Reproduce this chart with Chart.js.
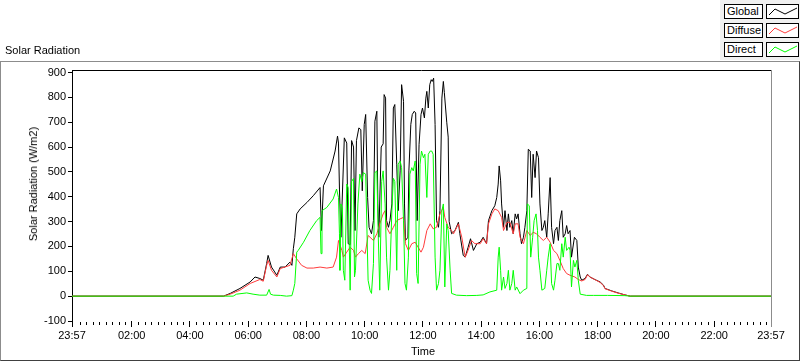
<!DOCTYPE html>
<html lang="en">
<head>
<meta charset="UTF-8">
<title>Solar Radiation</title>
<script src="https://cdn.jsdelivr.net/npm/chart.js"></script>
<style>
  body { margin: 0; background: #fff; font-family: "Liberation Sans", Arial, sans-serif; font-size: 11px; color: #000; }
  #wrap { position: relative; width: 800px; height: 361px; overflow: hidden; }
  #chart { position: absolute; left: 0; top: 0; }
  .frame { position: absolute; left: 0; top: 61px; width: 800px; height: 300px; box-sizing: border-box;
           border-top: 1px solid #8c8c8c; border-left: 1px solid #8c8c8c; border-right: 1px solid #404040; border-bottom: 1px solid #404040; }
  .panel { position: absolute; left: 720px; top: 0; width: 80px; height: 60px; background: #f0f0f0; }
  .lbl { position: absolute; left: 724px; width: 39px; height: 15px; box-sizing: border-box; border: 1px solid #000;
         background: #fff; line-height: 13px; padding-left: 2px; }
  .smp { position: absolute; left: 766px; width: 33px; height: 15px; box-sizing: border-box; border: 1px solid #000; background: #fff; }
  .smp svg { position: absolute; left: 0; top: 0; }
  .txt { position: absolute; white-space: nowrap; }
</style>
</head>
<body>
<div id="wrap">
  <div class="frame"></div>
  <canvas id="chart" width="800" height="361"></canvas>
  <div class="panel"></div>
  <div class="txt" style="left:5px; top:44px;">Solar Radiation</div>
  <div class="txt" style="left:411px; top:345px;">Time</div>
  <div class="txt" style="left:33px; top:184px; transform: translate(-50%, -50%) rotate(-90deg);">Solar Radiation (W/m2)</div>
  <div id="legend"></div>
</div>

<script>
// times are minutes after midnight; the axis runs 23:57 -> 23:57
const xTicks = [-3, 120, 240, 360, 480, 600, 720, 840, 960, 1080, 1200, 1320, 1437];
const yTicks = [-100, 0, 100, 200, 300, 400, 500, 600, 700, 800, 900];

const globalTime = [
  -3, 309, 323, 343, 364, 374, 384, 391, 398, 401,
  408, 419, 426, 436, 446, 450, 453, 456, 460, 467,
  481, 494, 508, 511, 515, 529, 539, 544, 546, 548,
  551, 558, 563, 566, 570, 573, 577, 580, 583, 588,
  592, 595, 599, 602, 606, 609, 614, 618, 621, 625,
  627, 629, 634, 638, 640, 643, 645, 649, 652, 656,
  659, 662, 666, 669, 673, 676, 680, 682, 684, 689,
  691, 695, 698, 702, 705, 708, 712, 716, 719, 723,
  726, 728, 731, 734, 737, 739, 742, 745, 748, 752,
  755, 759, 762, 764, 769, 772, 774, 779, 786, 793,
  796, 803, 807, 813, 818, 824, 831, 838, 844, 851,
  855, 862, 868, 872, 875, 877, 880, 882, 886, 889,
  893, 896, 899, 903, 906, 910, 913, 916, 920, 923,
  927, 930, 934, 937, 941, 944, 947, 951, 954, 958,
  961, 965, 968, 971, 975, 978, 982, 985, 989, 992,
  996, 999, 1002, 1006, 1009, 1013, 1016, 1019, 1023, 1026,
  1032, 1037, 1040, 1044, 1047, 1054, 1059, 1064, 1074, 1085,
  1092, 1095, 1109, 1122, 1136, 1147, 1437
];
const globalValue = [
  0, 0, 11, 31, 57, 77, 71, 64, 131, 164,
  117, 84, 117, 117, 137, 124, 191, 237, 331, 351,
  377, 404, 437, 264, 444, 504, 584, 644, 616, 431,
  237, 637, 616, 211, 207, 626, 600, 264, 626, 677,
  670, 424, 691, 731, 397, 277, 251, 304, 704, 744,
  371, 237, 600, 613, 811, 797, 304, 277, 304, 371,
  757, 771, 531, 344, 504, 851, 784, 371, 224, 237,
  504, 691, 731, 744, 737, 304, 611, 731, 757, 717,
  797, 824, 757, 851, 871, 864, 877, 691, 304, 277,
  344, 797, 864, 820, 700, 640, 300, 251, 264, 297,
  251, 164, 157, 197, 231, 184, 211, 217, 237, 211,
  304, 344, 364, 397, 451, 524, 464, 371, 277, 344,
  264, 331, 277, 304, 251, 331, 311, 331, 251, 211,
  237, 277, 344, 591, 584, 397, 571, 477, 584, 557,
  371, 264, 277, 304, 237, 331, 477, 277, 211, 264,
  277, 224, 304, 344, 237, 251, 284, 251, 264, 157,
  237, 224, 117, 77, 64, 71, 88, 77, 67, 57,
  44, 31, 21, 13, 5, 0, 0
];

const diffuseTime = [
  -3, 309, 323, 343, 364, 384, 391, 398, 401, 408,
  419, 426, 446, 453, 460, 470, 481, 494, 508, 522,
  535, 542, 546, 553, 556, 563, 570, 577, 581, 587,
  594, 601, 607, 611, 618, 625, 631, 638, 642, 645,
  652, 659, 666, 673, 680, 684, 690, 697, 704, 710,
  716, 721, 728, 735, 741, 748, 755, 762, 765, 772,
  779, 783, 793, 800, 807, 813, 820, 827, 838, 844,
  851, 855, 862, 868, 875, 882, 886, 893, 899, 906,
  910, 916, 920, 927, 934, 941, 947, 954, 961, 968,
  975, 982, 989, 996, 1002, 1009, 1016, 1023, 1033, 1040,
  1047, 1054, 1059, 1064, 1074, 1085, 1092, 1095, 1109, 1122,
  1136, 1147, 1437
];
const diffuseValue = [
  0, 0, 8, 24, 51, 67, 60, 124, 144, 104,
  77, 111, 124, 171, 150, 124, 113, 113, 117, 113,
  117, 157, 224, 184, 157, 177, 197, 184, 157, 171,
  184, 171, 244, 237, 224, 251, 291, 331, 344, 277,
  251, 277, 304, 311, 317, 211, 184, 211, 217, 197,
  177, 197, 264, 291, 271, 277, 331, 357, 317, 277,
  264, 251, 291, 237, 157, 184, 224, 211, 211, 231,
  211, 291, 331, 351, 344, 317, 264, 297, 297, 251,
  291, 291, 237, 211, 264, 244, 257, 251, 237, 224,
  237, 217, 184, 171, 144, 111, 91, 84, 77, 67,
  61, 67, 86, 77, 67, 55, 42, 30, 20, 12,
  5, 0, 0
];

const directTime = [
  -3, 309, 329, 336, 357, 370, 384, 398, 403, 406,
  412, 426, 439, 450, 453, 456, 460, 463, 474, 487,
  501, 508, 510, 512, 522, 535, 542, 546, 548, 549,
  551, 554, 556, 559, 563, 566, 570, 573, 577, 579,
  581, 586, 590, 594, 597, 602, 607, 611, 614, 618,
  621, 625, 628, 631, 635, 638, 642, 645, 649, 652,
  656, 659, 662, 666, 669, 673, 676, 680, 683, 686,
  690, 693, 697, 700, 704, 707, 710, 714, 717, 721,
  724, 728, 731, 735, 738, 741, 745, 748, 752, 755,
  759, 762, 765, 769, 772, 776, 779, 789, 810, 831,
  844, 858, 872, 875, 877, 880, 882, 886, 889, 893,
  896, 899, 903, 906, 910, 913, 920, 927, 934, 935,
  939, 942, 946, 949, 953, 956, 958, 961, 965, 971,
  975, 978, 982, 985, 989, 992, 996, 999, 1002, 1006,
  1009, 1013, 1016, 1021, 1023, 1026, 1030, 1033, 1037, 1040,
  1044, 1057, 1071, 1100, 1136, 1147, 1437
];
const directValue = [
  0, 0, 0, 8, 13, 8, 4, 4, 27, 8,
  4, 3, 0, 2, 24, 51, 177, 184, 217, 264,
  304, 317, 171, 344, 357, 391, 431, 397, 251, 104,
  371, 357, 104, 64, 451, 437, 24, 461, 474, 77,
  104, 371, 491, 461, 497, 491, 64, 24, 11, 131,
  497, 504, 237, 24, 461, 504, 371, 157, 24, 104,
  344, 474, 461, 104, 531, 544, 517, 304, 51, 24,
  157, 491, 517, 504, 544, 91, 51, 531, 584, 557,
  571, 397, 571, 584, 584, 571, 157, 24, 51, 104,
  344, 371, 37, 291, 264, 104, 11, 4, 2, 3,
  5, 17, 24, 157, 197, 104, 24, 77, 31, 51,
  104, 24, 51, 104, 24, 37, 10, 24, 31, 371,
  364, 157, 237, 304, 331, 264, 157, 104, 24, 31,
  104, 157, 211, 51, 24, 64, 131, 131, 104, 211,
  157, 237, 184, 197, 184, 37, 144, 117, 144, 64,
  8, 3, 3, 3, 2, 0, 0
];

const seriesNames = ['Global', 'Diffuse', 'Direct'];
const seriesColors = ['#000000', '#ff3c3c', '#00ff00'];

function toPoints(times, values) {
  return times.map((t, i) => ({ x: t, y: values[i] }));
}

function clockLabel(v) {
  if (v < 0 || v >= 1437) return '23:57';
  const h = Math.floor(v / 60), m = v % 60;
  return String(h).padStart(2, '0') + ':' + String(m).padStart(2, '0');
}

// legend boxes, LabVIEW style
const legend = document.getElementById('legend');
seriesNames.forEach((name, i) => {
  const top = 4 + i * 19;
  legend.innerHTML +=
    '<div class="lbl" style="top:' + top + 'px">' + name + '</div>' +
    '<div class="smp" style="top:' + top + 'px"><svg width="33" height="15">' +
    '<polyline points="2,10 8,4 18,9 30,3" fill="none" stroke="' + seriesColors[i] + '" stroke-width="1"/></svg></div>';
});

// plot frame and minor ticks on the time axis
const framePlugin = {
  id: 'frame',
  afterDraw(chart) {
    const { ctx, chartArea: a, scales } = chart;
    ctx.save();
    ctx.lineWidth = 1;
    ctx.strokeStyle = '#000';
    ctx.beginPath();
    ctx.moveTo(a.left, a.top + 0.5);
    ctx.lineTo(a.right, a.top + 0.5);
    ctx.stroke();
    ctx.strokeStyle = '#8c8c8c';
    ctx.beginPath();
    ctx.moveTo(a.right + 0.5, a.top);
    ctx.lineTo(a.right + 0.5, a.bottom + 6);
    ctx.stroke();
    ctx.strokeStyle = '#000';
    ctx.beginPath();
    const step = 120 / 9;
    for (let h = 0; h < 24; h += 2) {
      for (let k = 1; k < 9; k++) {
        const v = h * 60 + k * step;
        if (v >= 1437) break;
        const px = Math.round(scales.x.getPixelForValue(v)) + 0.5;
        ctx.moveTo(px, a.bottom + 1);
        ctx.lineTo(px, a.bottom + 4);
      }
    }
    ctx.stroke();
    ctx.restore();
  }
};

Chart.defaults.font.family = '"Liberation Sans", Arial, sans-serif';
Chart.defaults.font.size = 11;
Chart.defaults.color = '#000';

const datasets = [
  { label: 'Global', data: toPoints(globalTime, globalValue), order: 2 },
  { label: 'Diffuse', data: toPoints(diffuseTime, diffuseValue), order: 1 },
  { label: 'Direct', data: toPoints(directTime, directValue), order: 0 }
].map((d, i) => Object.assign(d, {
  borderColor: seriesColors[i],
  borderWidth: 1,
  pointRadius: 0,
  tension: 0,
  fill: false
}));

new Chart(document.getElementById('chart'), {
  type: 'line',
  data: { datasets: datasets },
  options: {
    responsive: false,
    animation: false,
    events: [],
    layout: { padding: { left: 0, right: 29, top: 70, bottom: 0 } },
    plugins: { legend: { display: false }, tooltip: { enabled: false } },
    scales: {
      x: {
        type: 'linear',
        min: -3,
        max: 1437,
        afterFit(s) { s.height = 40; },
        afterBuildTicks(s) { s.ticks = xTicks.map(v => ({ value: v })); },
        border: { display: false },
        grid: { drawOnChartArea: false, drawTicks: true, tickLength: 6, color: '#000' },
        ticks: { autoSkip: false, maxRotation: 0, padding: 2, callback: v => clockLabel(v) }
      },
      y: {
        min: -100,
        max: 910,
        afterFit(s) { s.width = 72; },
        afterBuildTicks(s) { s.ticks = yTicks.map(v => ({ value: v })); },
        border: { display: true, color: '#000' },
        grid: { drawOnChartArea: false, drawTicks: true, tickLength: 4, color: '#000' },
        ticks: { padding: 2 }
      }
    }
  },
  plugins: [framePlugin]
});

// zero reference is part of the data series (all three sit on 0 at night)
</script>
</body>
</html>
